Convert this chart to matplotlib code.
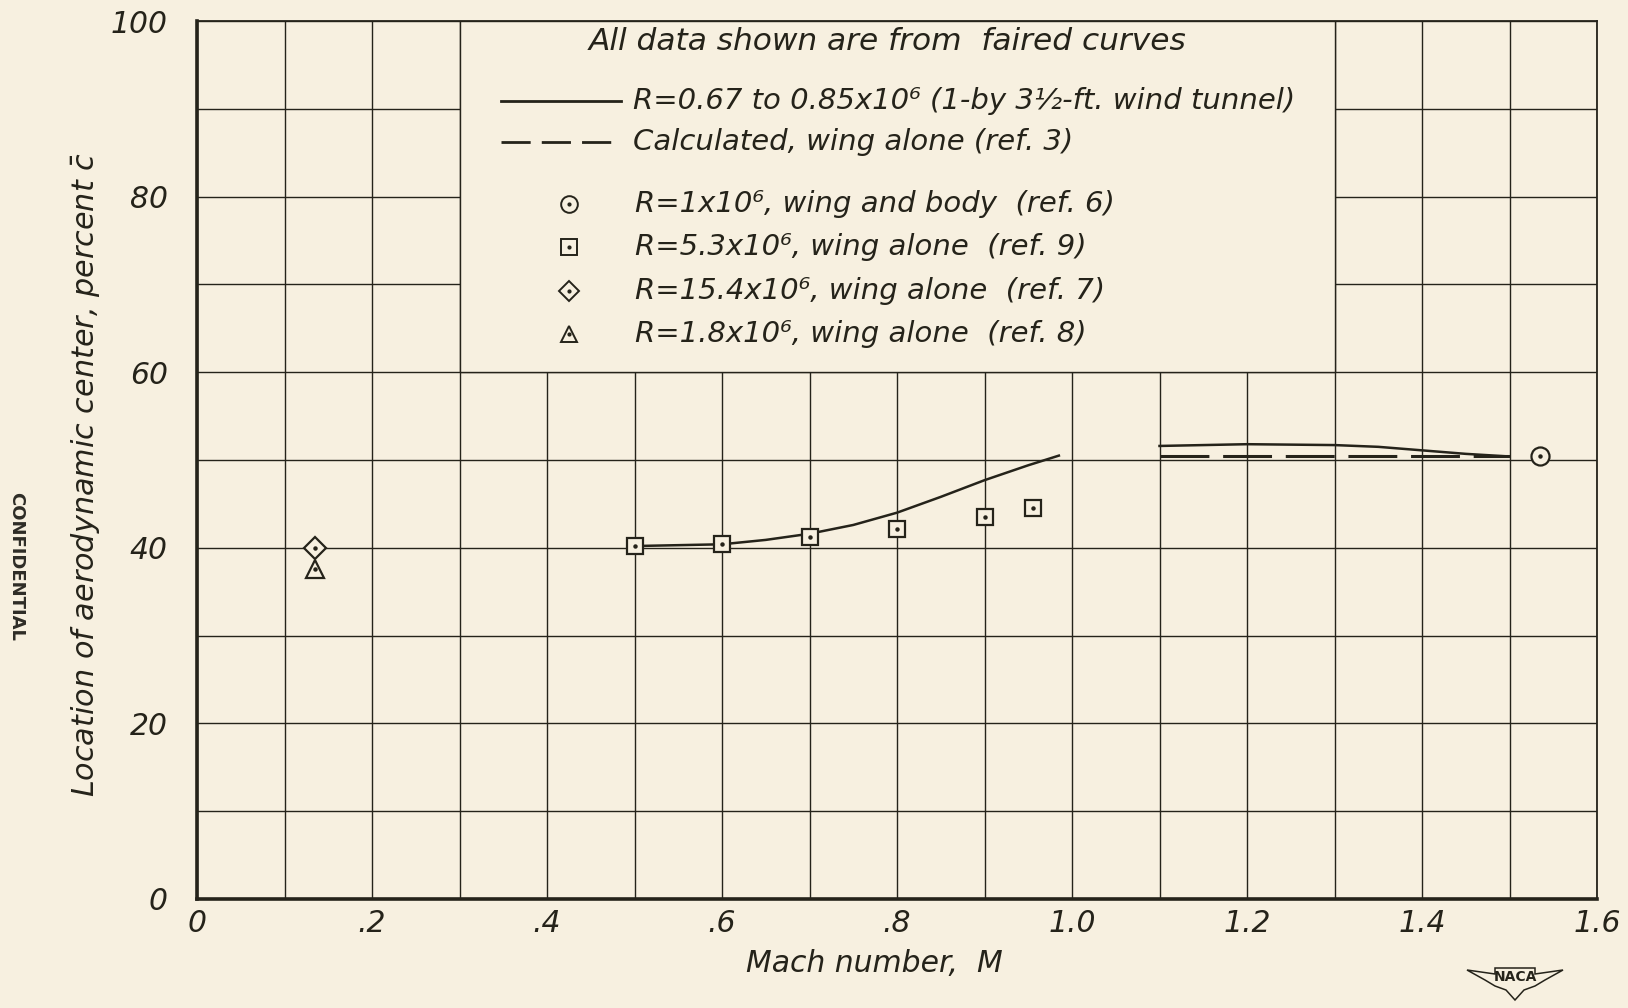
import matplotlib
matplotlib.use("Agg")
import matplotlib.pyplot as plt
from matplotlib.patches import Rectangle, Polygon

# ---- data ----
# solid faired curve, R=0.67 to 0.85x10^6 (1- by 3 1/2-ft tunnel), subsonic part
tunnel_sub_mach = [0.5, 0.55, 0.6, 0.65, 0.7, 0.75, 0.8, 0.85, 0.9, 0.95, 0.985]
tunnel_sub_ac = [40.2, 40.3, 40.4, 40.9, 41.6, 42.6, 44.0, 45.8, 47.7, 49.4, 50.5]
# solid faired curve, supersonic part
tunnel_sup_mach = [1.1, 1.2, 1.3, 1.35, 1.4, 1.45, 1.5]
tunnel_sup_ac = [51.6, 51.8, 51.7, 51.5, 51.1, 50.7, 50.4]
# calculated, wing alone (ref. 3)
calc_mach = [1.1, 1.5]
calc_ac = [50.4, 50.4]
# R=1x10^6, wing and body (ref. 6)
ref6_mach = [1.535]
ref6_ac = [50.5]
# R=5.3x10^6, wing alone (ref. 9)
ref9_mach = [0.5, 0.6, 0.7, 0.8, 0.9, 0.955]
ref9_ac = [40.2, 40.4, 41.2, 42.1, 43.5, 44.5]
# R=15.4x10^6, wing alone (ref. 7)
ref7_mach = [0.135]
ref7_ac = [40.0]
# R=1.8x10^6, wing alone (ref. 8)
ref8_mach = [0.135]
ref8_ac = [37.6]

x_ticks = [0, 0.2, 0.4, 0.6, 0.8, 1.0, 1.2, 1.4, 1.6]
x_ticklabels = ["0", ".2", ".4", ".6", ".8", "1.0", "1.2", "1.4", "1.6"]
y_ticks = [0, 20, 40, 60, 80, 100]

note_text = "All data shown are from  faired curves"
line_labels = ["R=0.67 to 0.85x10\u2076 (1-by 3\u00bd-ft. wind tunnel)",
               "Calculated, wing alone (ref. 3)"]
marker_labels = ["R=1x10\u2076, wing and body  (ref. 6)",
                 "R=5.3x10\u2076, wing alone  (ref. 9)",
                 "R=15.4x10\u2076, wing alone  (ref. 7)",
                 "R=1.8x10\u2076, wing alone  (ref. 8)"]

BG = "#f7f0e0"
INK = "#25231a"

fig = plt.figure(figsize=(16.28, 10.08), dpi=100, facecolor=BG)
W, H = 1628.0, 1008.0
ax = fig.add_axes([197 / W, 1 - 899 / H, 1400 / W, 878 / H], facecolor=BG)

ax.set_xlim(0, 1.6)
ax.set_ylim(0, 100)
ax.set_xticks(x_ticks)
ax.set_xticklabels(x_ticklabels)
ax.set_xticks([i / 10 for i in range(17)], minor=True)
ax.set_yticks(y_ticks)
ax.set_yticks(list(range(0, 101, 10)), minor=True)
ax.tick_params(which="both", length=0)
ax.tick_params(axis="x", pad=7, labelsize=21.5, labelcolor=INK)
ax.tick_params(axis="y", pad=21, labelsize=21.5, labelcolor=INK)
for lab in ax.get_xticklabels() + ax.get_yticklabels():
    lab.set_fontstyle("italic")
ax.grid(True, which="both", color=INK, lw=1.0)

for side, lw in [("left", 2.6), ("bottom", 2.6), ("top", 1.3), ("right", 1.3)]:
    ax.spines[side].set_linewidth(lw)
    ax.spines[side].set_color(INK)

# blank block where the key is lettered
ax.add_patch(Rectangle((0.3, 60), 1.0, 40, facecolor=BG, edgecolor=INK,
                       lw=1.0, zorder=1.6))

# curves
ax.plot(tunnel_sub_mach, tunnel_sub_ac, color=INK, lw=1.8, zorder=3)
ax.plot(tunnel_sup_mach, tunnel_sup_ac, color=INK, lw=1.8, zorder=3)
ax.plot(calc_mach, calc_ac, color=INK, lw=2.2, ls=(0, (16, 4.5)), zorder=3)

mk = dict(ls="none", mfc=BG, mec=INK, mew=1.6, zorder=4)
dot = dict(ls="none", marker="o", ms=2.2, color=INK, zorder=5)
ax.plot(ref6_mach, ref6_ac, marker="o", ms=13, **mk)
ax.plot(ref6_mach, ref6_ac, **dot)
ax.plot(ref9_mach, ref9_ac, marker="s", ms=12, **mk)
ax.plot(ref9_mach, ref9_ac, **dot)
ax.plot(ref8_mach, ref8_ac, marker="^", ms=13, **mk)
ax.plot(ref8_mach, ref8_ac, **dot)
ax.plot(ref7_mach, ref7_ac, marker="D", ms=11, **mk)
ax.plot(ref7_mach, ref7_ac, **dot)

# key
tf = dict(transform=ax.transAxes, style="italic", color=INK, zorder=6)
ax.text(0.4936, 0.9766, note_text, ha="center", va="center", fontsize=22.5,
        **tf)
line_styles = ["-", (0, (10.5, 4.0))]
line_y = [0.9089, 0.8622]
for lab, ls, y in zip(line_labels, line_styles, line_y):
    ax.plot([0.2171, 0.3029], [y, y], transform=ax.transAxes, color=INK,
            lw=2.0, ls=ls, zorder=6)
    ax.text(0.3114, y, lab, ha="left", va="center", fontsize=21, **tf)

key_markers = [("o", 12), ("s", 11), ("D", 10), ("^", 12)]
marker_y = [0.7921, 0.7426, 0.6925, 0.6435]
for lab, (m, s), y in zip(marker_labels, key_markers, marker_y):
    ax.plot([0.2657], [y], transform=ax.transAxes, marker=m, ms=s,
            ls="none", mfc=BG, mec=INK, mew=1.4, zorder=6)
    ax.plot([0.2657], [y], transform=ax.transAxes, marker="o", ms=2,
            ls="none", color=INK, zorder=7)
    ax.text(0.3129, y, lab, ha="left", va="center", fontsize=21, **tf)

ax.set_xlabel("Mach number,  M", fontsize=21.5, style="italic", color=INK,
              va="center")
ax.xaxis.set_label_coords(0.484, -0.074)
ax.set_ylabel(r"Location of aerodynamic center, percent $\bar{c}$",
              fontsize=21.8, style="italic", color=INK, va="center")
ax.yaxis.set_label_coords(-0.079, 0.483)

fig.text(16 / W, 1 - 566 / H, "CONFIDENTIAL", rotation=-90, ha="center",
         va="center", fontsize=13, color="#2e2c26", fontweight="semibold")

# NACA wing emblem, bottom right
cx, cy = 1515.0, 978.0
wing = [(-48, 8), (-20, 4), (-20, 10), (20, 10), (20, 4), (48, 8), (30, -2),
        (20, -8), (9, -12), (0, -22), (-9, -12), (-20, -8), (-30, -2)]
pts = [((cx + dx) / W, (H - cy + dy) / H) for dx, dy in wing]
fig.add_artist(Polygon(pts, closed=True, fill=False, edgecolor=INK, lw=1.1,
                       transform=fig.transFigure))
fig.text(cx / W, (H - cy + 1) / H, "NACA", ha="center", va="center",
         fontsize=10, color=INK, fontweight="semibold")

fig.savefig("out.png", dpi=100, facecolor=BG)
